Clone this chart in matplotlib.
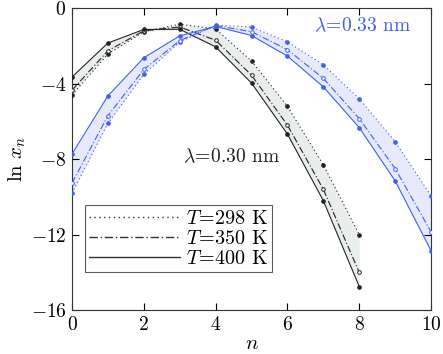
import numpy as np
import matplotlib
matplotlib.use('Agg')
import matplotlib.pyplot as plt
from matplotlib.lines import Line2D

plt.rcParams['font.family'] = 'serif'
plt.rcParams['font.serif'] = ['DejaVu Serif']
plt.rcParams['mathtext.fontset'] = 'cm'

# lambda = 0.30 nm, n = 0..8
n_030 = np.arange(0, 9)
y030_298 = [-4.6, -2.43, -1.25, -0.85, -1.1, -2.8, -5.2, -8.3, -12.0]
y030_350 = [-4.35, -2.26, -1.2, -1.0, -1.7, -3.55, -6.2, -9.6, -14.0]
y030_400 = [-3.65, -1.85, -1.13, -1.12, -2.05, -3.97, -6.67, -10.2, -14.75]

# lambda = 0.33 nm, n = 0..10
n_033 = np.arange(0, 11)
y033_298 = [-9.8, -6.1, -3.5, -1.8, -0.9, -1.0, -1.78, -3.0, -4.8, -7.07, -9.95]
y033_350 = [-9.27, -5.7, -3.25, -1.72, -0.92, -1.25, -2.2, -3.72, -5.85, -8.5, -11.85]
y033_400 = [-7.73, -4.65, -2.63, -1.47, -0.97, -1.45, -2.54, -4.17, -6.33, -9.15, -12.85]

temps = ['298', '350', '400']
styles = [(0, (1, 2.5)), (0, (6, 2, 1, 2)), '-']
filled = [True, False, True]

black = '#222222'
blue = '#3f5ff0'

fig = plt.figure(figsize=(4.43, 3.54), dpi=100)
ax = fig.add_axes([0.1625, 0.124, 0.8105, 0.853])

groups = [(n_030, [y030_298, y030_350, y030_400], black, '#e9eded'),
          (n_033, [y033_298, y033_350, y033_400], blue, '#e7e9fd')]

for n, ys, col, fill in groups:
    arr = np.array(ys)
    ax.fill_between(n, arr.min(axis=0), arr.max(axis=0), color=fill, lw=0, zorder=1)
    for y, ls, f in zip(ys, styles, filled):
        ax.plot(n, y, ls=ls, color=col, lw=0.8, marker='o', ms=2.6,
                mfc=col if f else 'white', mec=col, mew=0.7, zorder=3)

ax.set_xlim(0, 10)
ax.set_ylim(-16, 0)
ax.set_xticks(range(0, 11, 2))
ax.set_yticks([0, -4, -8, -12, -16])
ax.set_xticklabels(['$%d$' % v for v in range(0, 11, 2)], fontsize=14)
ax.set_yticklabels(['$0$', '$-4$', '$-8$', '$-12$', '$-16$'], fontsize=14)
ax.tick_params(direction='in', length=5, width=0.8, top=True, right=True, pad=4)
for s in ax.spines.values():
    s.set_linewidth(0.8)
    s.set_color('#333333')

ax.set_xlabel('$n$', fontsize=15, labelpad=0)
ax.set_ylabel(r'$\ln\, x_n$', fontsize=15, labelpad=2)

ax.text(3.1, -7.9, r'$\lambda\!=\!0.30$ $\mathrm{nm}$', fontsize=14, color=black, va='center')
ax.text(6.75, -0.95, r'$\lambda\!=\!0.33$ $\mathrm{nm}$', fontsize=14, color=blue, va='center')

handles = [Line2D([], [], color='#333333', ls=ls, lw=1.0) for ls in styles]
labels = [r'$T\!=\!%s$ $\mathrm{K}$' % t for t in temps]
leg = ax.legend(handles, labels, loc='lower left', bbox_to_anchor=(0.036, 0.125),
                fontsize=14.5, frameon=True, fancybox=False, handlelength=4.5,
                handletextpad=0.3, borderpad=0.2, labelspacing=0.05, borderaxespad=0)
leg.get_frame().set_edgecolor('#333333')
leg.get_frame().set_linewidth(0.8)

fig.savefig('out.png', dpi=100)
